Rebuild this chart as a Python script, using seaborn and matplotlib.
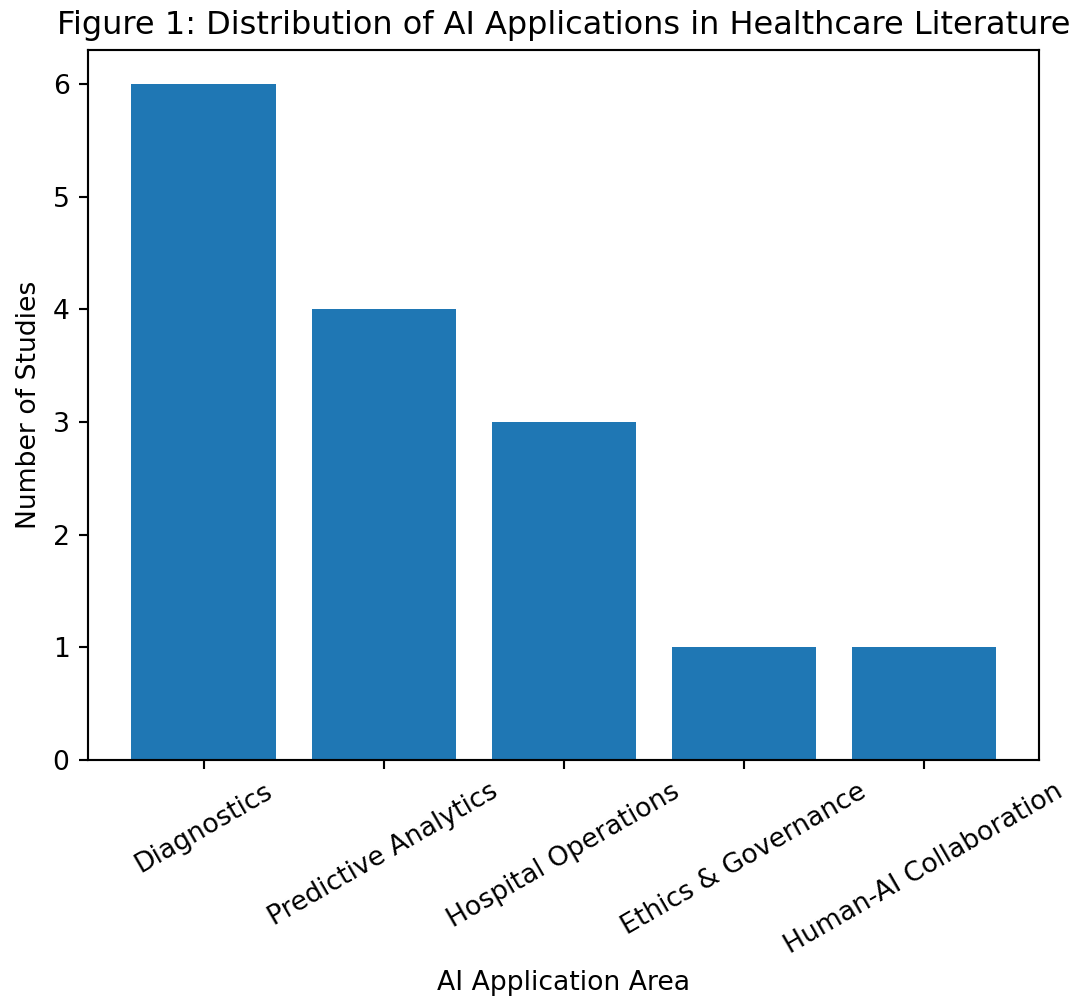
import matplotlib
matplotlib.use('Agg')
import matplotlib.pyplot as plt
import seaborn as sns
import pandas as pd

areas = ["Diagnostics", "Predictive Analytics", "Hospital Operations",
         "Ethics & Governance", "Human-AI Collaboration"]
studies = [6, 4, 3, 1, 1]

df = pd.DataFrame({"area": areas, "studies": studies})

dpi = 192
fig, ax = plt.subplots(figsize=(1076 / dpi, 1000 / dpi), dpi=dpi)
sns.barplot(data=df, x="area", y="studies", color="#1f77b4", saturation=1,
            width=0.8, ax=ax)
ax.set_xlim(-0.64, len(areas) - 0.36)
ax.set_ylim(0, 6.3)
ax.set_title("Figure 1: Distribution of AI Applications in Healthcare Literature")
ax.set_xlabel("AI Application Area")
ax.set_ylabel("Number of Studies")
plt.setp(ax.get_xticklabels(), rotation=30)
fig.subplots_adjust(left=0.082, right=0.966, top=0.95, bottom=0.24)
fig.savefig("out.png", dpi=dpi)
